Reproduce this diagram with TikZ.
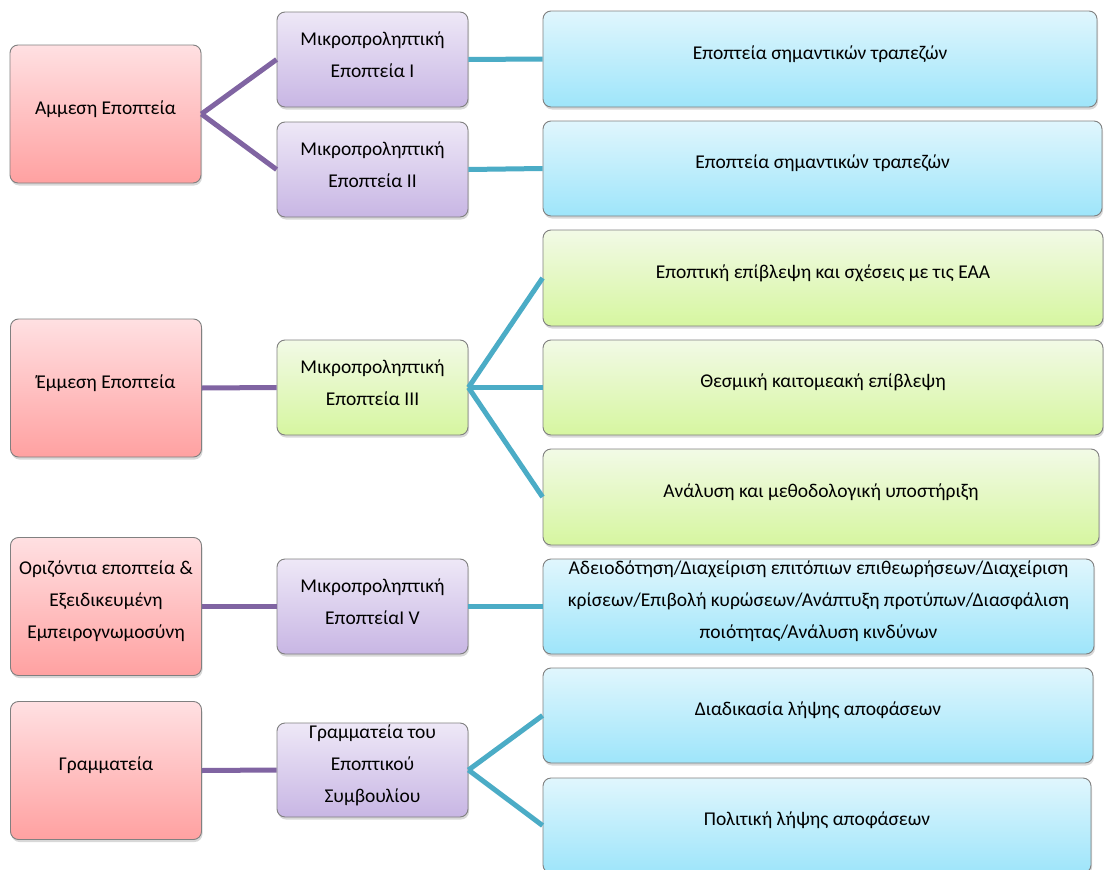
\documentclass[tikz,border=0pt]{standalone}
\usepackage{fontspec}
\setmainfont{Carlito}
\usetikzlibrary{shadows}

\definecolor{redtop}{RGB}{255,224,226}
\definecolor{redbot}{RGB}{255,161,161}
\definecolor{purtop}{RGB}{238,232,247}
\definecolor{purbot}{RGB}{200,182,228}
\definecolor{grntop}{RGB}{242,250,230}
\definecolor{grnbot}{RGB}{214,246,160}
\definecolor{blutop}{RGB}{224,246,253}
\definecolor{blubot}{RGB}{158,229,250}
\definecolor{boxline}{RGB}{128,128,128}
\definecolor{linkpur}{RGB}{128,100,162}
\definecolor{linkaqua}{RGB}{75,172,198}

\begin{document}
\begin{tikzpicture}[x=1pt,y=-1pt,
  box/.style={rounded corners=8pt, draw=boxline, line width=0.9pt,
    drop shadow={shadow xshift=1pt, shadow yshift=-2.5pt, opacity=0.3},
    inner sep=0pt},
  redbox/.style={box, top color=redtop, bottom color=redbot,
    minimum width=191pt, minimum height=138pt},
  midbox/.style={box, minimum width=191pt, minimum height=95pt},
  purbox/.style={midbox, top color=purtop, bottom color=purbot},
  grnmid/.style={midbox, top color=grntop, bottom color=grnbot},
  grnbox/.style={box, top color=grntop, bottom color=grnbot, minimum height=96pt},
  blubox/.style={box, top color=blutop, bottom color=blubot, minimum height=95pt},
  boxtext/.style={inner sep=0pt, align=center, yshift=5pt,
    font=\fontsize{19.5}{32}\selectfont},
  purlink/.style={draw=linkpur, line width=5pt},
  aqualink/.style={draw=linkaqua, line width=5pt}
]
\useasboundingbox (0,0) rectangle (1104,870);
\fill[white] (0,0) rectangle (1104,870);
\clip (0,0) rectangle (1104,870);

% first column
\node[redbox] (direct) at (105.5,114) {};
\node[redbox] (indirect) at (106,388) {};
\node[redbox] (horiz) at (106,606.5) {};
\node[redbox] (secr) at (106,770.5) {};

% second column
\node[purbox] (ms1) at (372.5,59.5) {};
\node[purbox] (ms2) at (372.5,169.5) {};
\node[grnmid] (ms3) at (372.5,387.5) {};
\node[purbox] (ms4) at (372.5,606.5) {};
\node[purbox, minimum height=94pt] (board) at (372.5,770) {};

% third column
\node[blubox, minimum width=554pt, minimum height=96pt] (banks1) at (820,59) {};
\node[blubox, minimum width=559pt] (banks2) at (822.5,168.5) {};
\node[grnbox, minimum width=560pt] (over) at (823,278) {};
\node[grnbox, minimum width=560pt, minimum height=95pt] (inst) at (823,387.5) {};
\node[grnbox, minimum width=556pt] (anal) at (821,497) {};
\node[blubox, minimum width=551pt] (lic) at (818.5,606.5) {};
\node[blubox, minimum width=550pt] (proc) at (818,715.5) {};
\node[blubox, minimum width=548pt] (pol) at (817,825.5) {};

% labels, set a little above the middle of each box
\node[boxtext] (directT) at (direct.center) {Αμμεση Εποπτεία};
\node[boxtext] (indirectT) at (indirect.center) {Έμμεση Εποπτεία};
\node[boxtext] (horizT) at (horiz.center) {Οριζόντια εποπτεία \&\\Εξειδικευμένη\\Εμπειρογνωμοσύνη};
\node[boxtext] (secrT) at (secr.center) {Γραμματεία};

\node[boxtext] (ms1T) at (ms1.center) {Μικροπροληπτική\\Εποπτεία Ι};
\node[boxtext] (ms2T) at (ms2.center) {Μικροπροληπτική\\Εποπτεία ΙΙ};
\node[boxtext] (ms3T) at (ms3.center) {Μικροπροληπτική\\Εποπτεία ΙΙΙ};
\node[boxtext] (ms4T) at (ms4.center) {Μικροπροληπτική\\ΕποπτείαΙ V};
\node[boxtext] (boardT) at (board.center) {Γραμματεία του\\Εποπτικού\\Συμβουλίου};

\node[boxtext] (banks1T) at (banks1.center) {Εποπτεία σημαντικών τραπεζών};
\node[boxtext] (banks2T) at (banks2.center) {Εποπτεία σημαντικών τραπεζών};
\node[boxtext] (overT) at (over.center) {Εποπτική επίβλεψη και σχέσεις με τις ΕΑΑ};
\node[boxtext] (instT) at (inst.center) {Θεσμική καιτομεακή επίβλεψη};
\node[boxtext] (analT) at (anal.center) {Ανάλυση και μεθοδολογική υποστήριξη};
\node[boxtext] (licT) at (lic.center) {Αδειοδότηση/Διαχείριση επιτόπιων επιθεωρήσεων/Διαχείριση\\κρίσεων/Επιβολή κυρώσεων/Ανάπτυξη προτύπων/Διασφάλιση\\ποιότητας/Ανάλυση κινδύνων};
\node[boxtext] (procT) at (proc.center) {Διαδικασία λήψης αποφάσεων};
\node[boxtext] (polT) at (pol.center) {Πολιτική λήψης αποφάσεων};

% connectors
\draw[purlink] (direct.east) -- (ms1.west);
\draw[purlink] (direct.east) -- (ms2.west);
\draw[purlink] (indirect.east) -- (ms3.west);
\draw[purlink] (horiz.east) -- (ms4.west);
\draw[purlink] (secr.east) -- (board.west);

\draw[aqualink] (ms1.east) -- (banks1.west);
\draw[aqualink] (ms2.east) -- (banks2.west);
\draw[aqualink] (ms3.east) -- (over.west);
\draw[aqualink] (ms3.east) -- (inst.west);
\draw[aqualink] (ms3.east) -- (anal.west);
\draw[aqualink] (ms4.east) -- (lic.west);
\draw[aqualink] (board.east) -- (proc.west);
\draw[aqualink] (board.east) -- (pol.west);
\end{tikzpicture}
\end{document}
